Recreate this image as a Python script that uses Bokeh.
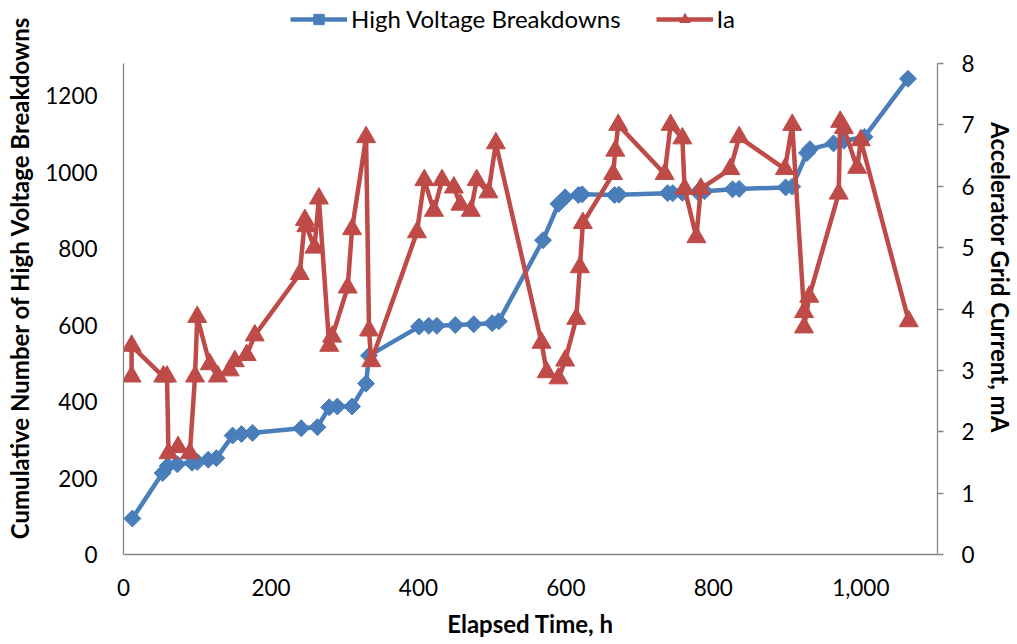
import numpy as np
from bokeh.plotting import figure
from bokeh.models import (Range1d, LinearAxis, FixedTicker, NumeralTickFormatter,
                          Legend, LegendItem)
from bokeh.embed import file_html
from bokeh.resources import INLINE

# ---- data ----
hv_time = [12, 53, 60, 73, 93, 100, 115, 126, 148, 160, 175, 241, 263, 279, 290, 310,
           329, 333, 401, 414, 425, 450, 475, 500, 509, 569, 590, 599, 617, 622, 666,
           672, 738, 745, 758, 779, 788, 826, 835, 898, 907, 927, 931, 963, 977, 1005, 1064]
hv_count = [94, 213, 232, 236, 240, 242, 248, 252, 311, 315, 318, 330, 333, 385, 387, 387,
            447, 520, 596, 598, 598, 600, 602, 605, 610, 822, 917, 934, 940, 942, 940,
            941, 945, 945, 946, 948, 950, 955, 956, 960, 962, 1050, 1060, 1075, 1082, 1092, 1244]

ia_time = [11, 11, 54, 59, 61, 74, 90, 97, 100, 117, 128, 144, 151, 167, 178, 239, 246, 248,
           259, 265, 279, 283, 304, 310, 329, 333, 336, 398, 408, 421, 432, 448, 457, 471,
           479, 495, 505, 567, 574, 590, 599, 614, 619, 623, 664, 667, 671, 734, 742, 758,
           761, 777, 783, 823, 835, 897, 907, 923, 923, 930, 970, 972, 977, 995, 1000, 1065]
ia_current = [2.9, 3.4, 2.9, 2.9, 1.65, 1.75, 1.65, 2.9, 3.87, 3.1, 2.9, 3.0, 3.15, 3.25, 3.57,
              4.57, 5.45, 5.35, 5.0, 5.8, 3.4, 3.55, 4.35, 5.3, 6.8, 3.65, 3.15, 5.25, 6.1,
              5.6, 6.1, 5.98, 5.7, 5.6, 6.1, 5.9, 6.7, 3.45, 2.97, 2.87, 3.16, 3.84, 4.68,
              5.4, 6.2, 6.58, 7.0, 6.2, 7.0, 6.78, 5.96, 5.17, 5.96, 6.28, 6.8, 6.28, 7.0,
              3.95, 3.7, 4.2, 5.88, 7.05, 6.95, 6.3, 6.75, 3.8]

x_ticks = [0, 200, 400, 600, 800, 1000]
left_ticks = [0, 200, 400, 600, 800, 1000, 1200]
right_ticks = [0, 1, 2, 3, 4, 5, 6, 7, 8]

series_names = ["High Voltage Breakdowns", "Ia"]
x_title = "Elapsed Time, h"
left_title = "Cumulative Number of High Voltage Breakdowns"
right_title = "Accelerator Grid Current, mA"

BLUE = "#4A7EBB"
RED = "#BE4B48"
AXIS = "#868686"
FONT = "Lato"

# axis extents (the frame extends above the axes to hold the legend)
LEFT_MAX = 1284
RIGHT_MAX = 8
FRAME_BOTTOM = 554
AXIS_TOP = 63
scale = FRAME_BOTTOM / (FRAME_BOTTOM - AXIS_TOP)

p = figure(width=1017, height=644, output_backend="svg", toolbar_location=None,
           x_range=Range1d(0, 1104), y_range=Range1d(0, LEFT_MAX * scale),
           min_border_left=123, min_border_right=76, min_border_top=0, min_border_bottom=90)
p.extra_y_ranges = {"ia": Range1d(0, RIGHT_MAX * scale)}
p.outline_line_color = None
p.xgrid.visible = False
p.ygrid.visible = False
p.background_fill_color = "white"
p.border_fill_color = "white"

# axes styling
xa = p.xaxis[0]
xa.ticker = FixedTicker(ticks=x_ticks)
xa.formatter = NumeralTickFormatter(format="0,0")
xa.axis_label = x_title
ya = p.yaxis[0]
ya.ticker = FixedTicker(ticks=left_ticks)
ya.axis_label = left_title
ya.bounds = (0, LEFT_MAX)

ra = LinearAxis(y_range_name="ia", ticker=FixedTicker(ticks=right_ticks), axis_label=right_title,
                bounds=(0, RIGHT_MAX))
p.add_layout(ra, "right")

for ax in (xa, ya, ra):
    ax.axis_line_color = AXIS
    ax.axis_line_width = 1.3
    ax.major_tick_line_color = AXIS
    ax.major_tick_line_width = 1.3
    ax.minor_tick_line_color = None
    ax.major_tick_in = 0
    ax.major_label_text_font = FONT
    ax.major_label_text_font_size = "22.5px"
    ax.major_label_text_color = "black"
    ax.axis_label_text_font = FONT
    ax.axis_label_text_font_style = "bold"
    ax.axis_label_text_font_size = "24px"
    ax.axis_label_text_color = "black"

xa.major_tick_out = 0
xa.major_label_standoff = 24
xa.axis_label_standoff = 10
ya.major_tick_out = 0
ya.major_label_standoff = 26
ya.axis_label_standoff = 8
ra.major_tick_out = 6
ra.major_label_standoff = 18
ra.axis_label_standoff = 8

# series
hv_line = p.line(hv_time, hv_count, line_color=BLUE, line_width=4.5)
hv_mark = p.scatter(hv_time, hv_count, marker="square", angle=np.pi / 4, size=12,
                    fill_color=BLUE, line_color=BLUE)
ia_line = p.line(ia_time, ia_current, y_range_name="ia", line_color=RED, line_width=4.5)
ia_mark = p.scatter(ia_time, ia_current, y_range_name="ia", marker="triangle", size=19,
                    fill_color=RED, line_color=RED)

legend = Legend(items=[LegendItem(label=series_names[0], renderers=[hv_line, hv_mark]),
                       LegendItem(label=series_names[1], renderers=[ia_line, ia_mark])],
                orientation="horizontal", location=(167, 521),
                glyph_width=57, glyph_height=26, label_standoff=4, spacing=35,
                padding=0, margin=0, border_line_color=None, background_fill_alpha=0,
                label_text_font=FONT, label_text_font_size="24px", label_text_color="black")
p.add_layout(legend, "center")

open("out.html", "w").write(file_html(p, INLINE))
